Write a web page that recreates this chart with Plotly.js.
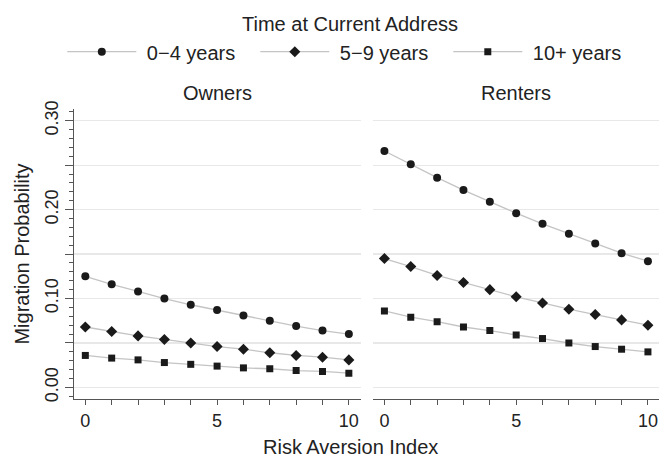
<!DOCTYPE html>
<html>
<head>
<meta charset="utf-8">
<script src="https://cdn.plot.ly/plotly-3.0.1.min.js"></script>
<style>html,body{margin:0;padding:0;background:#fff;}#chart{width:659px;height:458px;}</style>
</head>
<body>
<div id="chart"></div>
<script>
const riskIndex = [0,1,2,3,4,5,6,7,8,9,10];
const seriesNames = ["0\u22124 years", "5\u22129 years", "10+ years"];
const panelNames = ["Owners", "Renters"];
const owners_0_4  = [0.125,0.116,0.108,0.100,0.093,0.087,0.081,0.075,0.069,0.064,0.060];
const owners_5_9  = [0.068,0.063,0.058,0.054,0.050,0.046,0.043,0.039,0.036,0.034,0.031];
const owners_10p  = [0.036,0.033,0.031,0.028,0.026,0.024,0.022,0.021,0.019,0.018,0.016];
const renters_0_4 = [0.266,0.251,0.236,0.222,0.209,0.196,0.184,0.173,0.162,0.151,0.142];
const renters_5_9 = [0.145,0.136,0.126,0.118,0.110,0.102,0.095,0.088,0.082,0.076,0.070];
const renters_10p = [0.086,0.079,0.074,0.068,0.064,0.059,0.055,0.050,0.046,0.043,0.040];
const yTickVals = [0,0.05,0.10,0.15,0.20,0.25,0.30];
const yTickText = ["0.00","","0.10","","0.20","","0.30"];
const xTickText = ["0","","","","","5","","","","","10"];

const symbols = ["circle","diamond","square"];
const sizes = [8,8.5,7];
const FONT = "Liberation Sans, Arial, sans-serif";
const ownersData = [owners_0_4, owners_5_9, owners_10p];
const rentersData = [renters_0_4, renters_5_9, renters_10p];

const traces = [];
ownersData.forEach((vals,i)=>{
  traces.push({x:riskIndex, y:vals, xaxis:'x', yaxis:'y', type:'scatter', mode:'lines+markers',
    name:'\u00A0'+seriesNames[i], legendgroup:'g'+i,
    line:{color:'#c4c4c4', width:1.3},
    marker:{symbol:symbols[i], size:sizes[i], color:'#1a1a1a'}});
});
rentersData.forEach((vals,i)=>{
  traces.push({x:riskIndex, y:vals, xaxis:'x2', yaxis:'y2', type:'scatter', mode:'lines+markers',
    name:seriesNames[i], legendgroup:'g'+i, showlegend:false,
    line:{color:'#c4c4c4', width:1.3},
    marker:{symbol:symbols[i], size:sizes[i], color:'#1a1a1a'}});
});

const xCommon = {
  tickvals: riskIndex, ticktext: xTickText, ticks:'outside', ticklen:5, tickcolor:'#555',
  showline:true, linecolor:'#555', linewidth:1, showgrid:false, zeroline:false,
  tickfont:{family:FONT, size:18, color:'#222'}
};
const layout = {
  width:659, height:458,
  margin:{l:74, r:0, t:109, b:59},
  paper_bgcolor:'#fff', plot_bgcolor:'#fff',
  font:{family:FONT, color:'#222'},
  showlegend:true,
  legend:{orientation:'h', x:-0.02, xanchor:'left', y:1.1976, yanchor:'middle',
    font:{family:FONT, size:20, color:'#222'}, itemwidth:69,
    entrywidth:109, entrywidthmode:'pixels', bgcolor:'rgba(0,0,0,0)', traceorder:'normal'},
  xaxis: Object.assign({}, xCommon, {domain:[0,0.4901], range:[-0.43,10.45], anchor:'y'}),
  xaxis2: Object.assign({}, xCommon, {domain:[0.5117,1], range:[-0.42,10.42], anchor:'y2'}),
  yaxis: {domain:[0,1], range:[-0.013,0.3132], anchor:'x',
    tickvals:yTickVals, ticktext:yTickText, tickangle:-90, ticks:'outside', ticklen:8, tickcolor:'#555',
    tickfont:{family:FONT, size:18, color:'#222'},
    minor:{dtick:0.01, tick0:0, ticks:'outside', ticklen:4, tickcolor:'#555', showgrid:false},
    showline:true, linecolor:'#555', linewidth:1, showgrid:true, gridcolor:'#e8e8e8', gridwidth:1.2,
    zeroline:false,
    title:{text:'Migration Probability', font:{family:FONT, size:20, color:'#222'}, standoff:6}},
  yaxis2: {domain:[0,1], range:[-0.013,0.3132], anchor:'x2', matches:'y',
    tickvals:yTickVals, showticklabels:false, ticks:'', showline:false,
    showgrid:true, gridcolor:'#e8e8e8', gridwidth:1.2, zeroline:false},
  annotations:[
    {text:panelNames[0], xref:'x domain', yref:'paper', x:0.5, y:1.055, xanchor:'center', yanchor:'middle',
      showarrow:false, font:{family:FONT, size:20, color:'#222'}},
    {text:panelNames[1], xref:'x2 domain', yref:'paper', x:0.5, y:1.055, xanchor:'center', yanchor:'middle',
      showarrow:false, font:{family:FONT, size:20, color:'#222'}},
    {text:'Time at Current Address', xref:'paper', yref:'paper', x:0.4718, y:1.293, xanchor:'center', yanchor:'middle',
      showarrow:false, font:{family:FONT, size:20, color:'#222'}},
    {text:'Risk Aversion Index', xref:'paper', yref:'paper', x:0.4718, y:-0.165, xanchor:'center', yanchor:'middle',
      showarrow:false, font:{family:FONT, size:20, color:'#222'}}
  ]
};
Plotly.newPlot('chart', traces, layout, {staticPlot:true, displayModeBar:false});
</script>
</body>
</html>
